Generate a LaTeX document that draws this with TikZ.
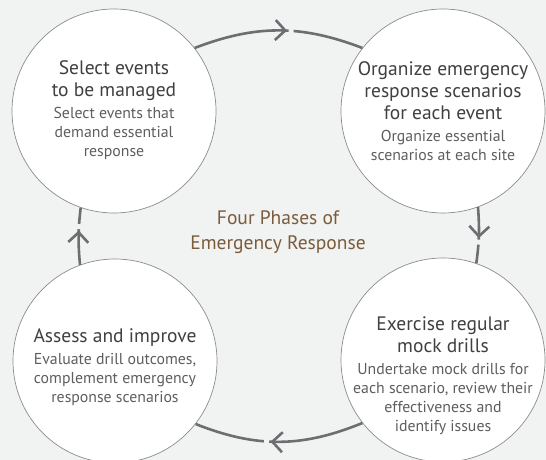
\documentclass[tikz,border=0pt]{standalone}
\usepackage{fontspec}
\setmainfont{PT Sans}
\usetikzlibrary{arrows.meta,decorations.markings}

\definecolor{bggray}{HTML}{F1F2F2}
\definecolor{ringgray}{HTML}{8C8C8C}
\definecolor{linkgray}{HTML}{6D6E71}
\definecolor{headgray}{HTML}{404040}
\definecolor{bodygray}{HTML}{5E5E5E}
\definecolor{phasebrown}{HTML}{7A5C3C}

\newcommand{\headfont}{\fontsize{19.5}{22}\selectfont\color{headgray}}
\newcommand{\bodyfont}{\fontsize{15.8}{19}\selectfont\color{bodygray}}
% title lines, then the description
\newcommand{\phasetext}[2]{\parbox{200pt}{\centering\headfont #1\par
  \vspace{3pt}\bodyfont #2\par}}

\tikzset{
  cycleflow/.style={draw=linkgray, line width=2.6pt, postaction={decorate},
    decoration={markings, mark=at position #1 with {
      \fill[bggray] (1.5pt,-3pt) rectangle (6.5pt,3pt);
      \arrow[linkgray,line width=2.6pt]{Straight Barb[length=10pt,width=20pt]}}}}
}

\begin{document}
\begin{tikzpicture}[x=1pt,y=1pt]
  \useasboundingbox[fill=bggray] (0,0) rectangle (546,460);

  \begin{scope}[every node/.style={circle,draw=ringgray,fill=white,line width=.7pt,minimum size=204pt,inner sep=0pt}]
    \node (select)   at (114,349) {};
    \node (organize) at (443,349) {};
    \node (assess)   at (115,99)  {};
    \node (drill)    at (443,100) {};
  \end{scope}

  \begin{scope}[every node/.style={inner sep=0pt}]
    \node (selecttxt) at ([yshift=1pt]select.center)
      {\phasetext{Select events\\to be managed}{Select events that\\demand essential\\response}};
    \node (organizetxt) at (organize)
      {\phasetext{Organize emergency\\response scenarios\\for each event}{Organize essential\\scenarios at each site}};
    \node (assesstxt) at ([yshift=-6pt]assess.center)
      {\phasetext{Assess and improve}{Evaluate drill outcomes,\\complement emergency\\response scenarios}};
    \node (drilltxt) at ([yshift=-16pt]drill.center)
      {\phasetext{Exercise regular\\mock drills}{Undertake mock drills for\\each scenario, review their\\effectiveness and\\identify issues}};
    \node[align=center,text=phasebrown,font=\fontsize{19.5}{25}\selectfont] (phases) at (278,228)
      {Four Phases of\\Emergency Response};
  \end{scope}

  \path (select.38)    edge[cycleflow=.55, bend left=21] (organize.142);
  \path (organize.-70) edge[cycleflow=.55, bend left=6]  (drill.71);
  \path (drill.218)    edge[cycleflow=.55, bend left=22] (assess.322);
  \path (assess.110)   edge[cycleflow=.6,  bend left=6]  (select.251);

\end{tikzpicture}
\end{document}
